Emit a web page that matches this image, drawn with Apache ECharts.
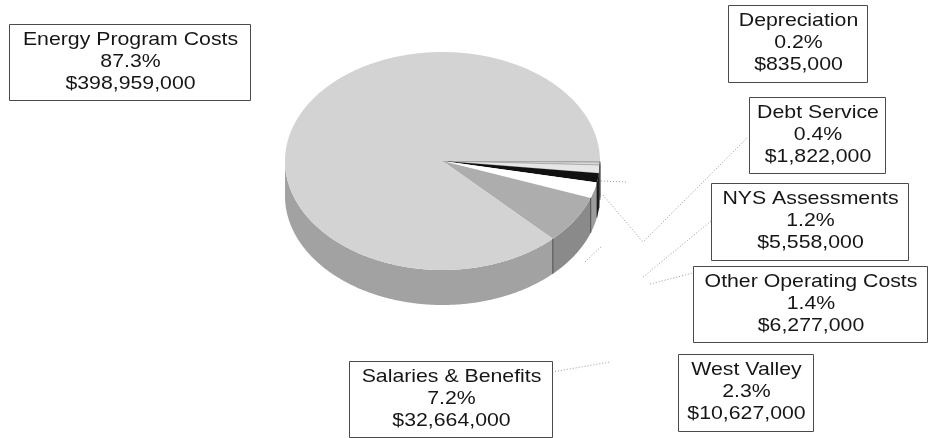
<!DOCTYPE html>
<html>
<head>
<meta charset="utf-8">
<script src="https://cdn.jsdelivr.net/npm/echarts@6/dist/echarts.min.js"></script>
<style>
html,body{margin:0;padding:0;background:#fff;}
#chart{width:932px;height:438px;}
</style>
</head>
<body>
<div id="chart"></div>
<script>
// ---- data ----
const categories = ['Depreciation', 'Debt Service', 'NYS Assessments', 'Other Operating Costs', 'West Valley', 'Salaries & Benefits', 'Energy Program Costs'];
const amounts = [835000, 1822000, 5558000, 6277000, 10627000, 32664000, 398959000];

// ---- layout & style (not data) ----
const CX = 442.5, CY = 161, RX = 157.5, RY = 109, DEPTH = 35;
const topColors  = ['#cdcdcd', '#dadada', '#e6e6e6', '#111111', '#ffffff', '#adadad', '#d3d3d3'];
const wallColors = ['#9a9a9a', '#9a9a9a', '#a0a0a0', '#111111', '#9c9c9c', '#8a8a8a', '#a2a2a2'];
const labelBoxes = [
  [728, 5, 139, 77],
  [749, 97, 136, 76],
  [711, 183, 197, 77],
  [693, 266, 234, 76],
  [678, 354, 135, 77],
  [349, 361, 203, 76],
  [9, 24, 241, 76]
];
const leaders = [
  [[601, 181], [627, 182]],
  [[603, 195], [643, 242], [748, 137]],
  [[643, 277], [711, 221]],
  [[650, 284], [693, 273]],
  [[585, 262], [602, 246]],
  [[552, 372], [610, 362]],
  []
];

const total = amounts.reduce((s, v) => s + v, 0);
const startDeg = [];
(function () { let acc = 0; for (const v of amounts) { startDeg.push(acc / total * 360); acc += v; } })();

function ept(t, dy) {
  const r = t * Math.PI / 180;
  return [CX + RX * Math.cos(r), CY + RY * Math.sin(r) + (dy || 0)];
}
function arc(a0, a1, dy) {
  const pts = [];
  const n = Math.max(2, Math.ceil((a1 - a0) / 0.5));
  for (let k = 0; k <= n; k++) pts.push(ept(a0 + (a1 - a0) * k / n, dy));
  return pts;
}
const FONT = 'normal 18.5px "Liberation Sans", Arial, sans-serif';

function renderItem(params, api) {
  const i = params.dataIndex;
  const v = api.value(0);
  const a0 = startDeg[i];
  const a1 = a0 + v / total * 360;
  const children = [];
  // top face
  const top = [[CX, CY]].concat(arc(a0, a1, 0));
  children.push({
    type: 'polygon', z2: 2, shape: { points: top },
    style: { fill: topColors[i], stroke: i < 3 ? '#8a8a8a' : null, lineWidth: 0.5 }
  });
  // front wall
  const w0 = Math.max(a0, 0), w1 = Math.min(a1, 180);
  if (w1 > w0) {
    const upper = arc(w0, w1, 0);
    const lower = arc(w0, w1, DEPTH).reverse();
    children.push({
      type: 'polygon', z2: 1, shape: { points: upper.concat(lower) },
      style: { fill: wallColors[i] }
    });
    if (a1 > 0 && a1 < 180 && i < amounts.length - 1) {
      const p = ept(a1, 0), q = ept(a1, DEPTH);
      children.push({
        type: 'line', z2: 3, shape: { x1: p[0], y1: p[1], x2: q[0], y2: q[1] },
        style: { stroke: '#333', lineWidth: 0.8 }
      });
    }
  }
  // leader line
  const L = leaders[i];
  if (L && L.length > 1) {
    children.push({
      type: 'polyline', z2: 4, shape: { points: L },
      style: { stroke: '#9a9a9a', lineWidth: 1, lineDash: [1, 2], fill: null }
    });
  }
  // label box
  const b = labelBoxes[i];
  children.push({
    type: 'rect', z2: 5,
    shape: { x: b[0] + 0.5, y: b[1] + 0.5, width: b[2], height: b[3] },
    style: { fill: '#fff', stroke: '#4a4a4a', lineWidth: 1 }
  });
  const pct = (v / total * 100).toFixed(1) + '%';
  const dollars = '$' + v.toLocaleString('en-US');
  const lines = [categories[i], pct, dollars];
  const mx = b[0] + b[2] / 2 + 1;
  lines.forEach((txt, k) => {
    children.push({
      type: 'text', z2: 6,
      x: mx, y: b[1] + 16 + k * 22, scaleX: 1.15, scaleY: 1,
      style: { text: txt, x: 0, y: 0, fill: '#161616', font: FONT, align: 'center', verticalAlign: 'middle' }
    });
  });
  return { type: 'group', children: children };
}

const chart = echarts.init(document.getElementById('chart'), null, { renderer: 'canvas' });
chart.setOption({
  animation: false,
  backgroundColor: '#ffffff',
  series: [{
    type: 'custom',
    coordinateSystem: 'none',
    renderItem: renderItem,
    data: amounts.map((v, i) => ({ name: categories[i], value: [v] }))
  }]
});
</script>
</body>
</html>
